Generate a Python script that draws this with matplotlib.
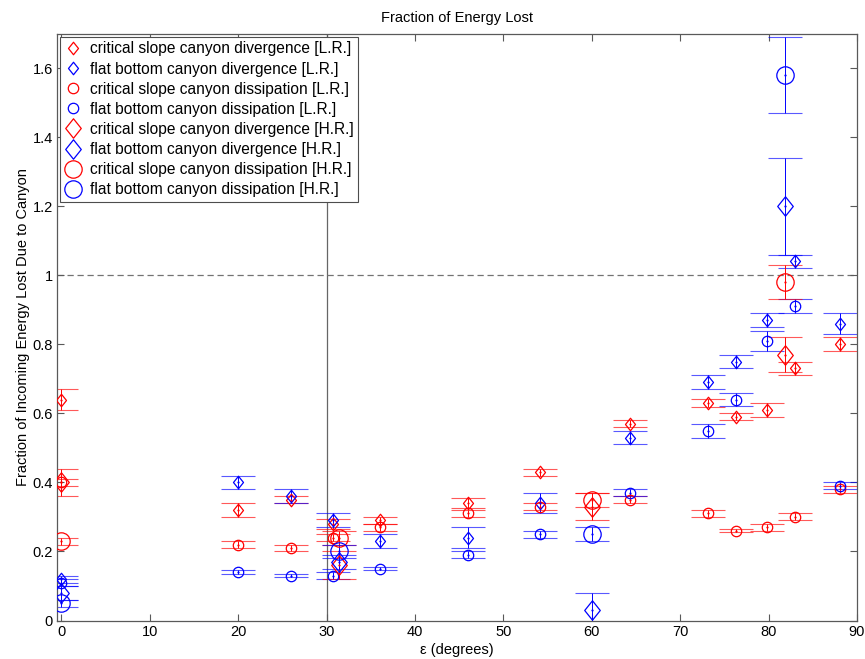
import matplotlib
matplotlib.use("Agg")
import matplotlib.pyplot as plt
from matplotlib.path import Path
import numpy as np

plt.rcParams['font.family'] = ['Liberation Sans', 'DejaVu Sans']

# ---------------- data ----------------
x_lr = [0, 20, 26, 30.7, 36, 46, 54.1, 64.3, 73.1, 76.3, 79.8, 83, 88.1]
cs_div_lr = [0.64, 0.32, 0.35, 0.28, 0.29, 0.34, 0.43, 0.57, 0.63, 0.59, 0.61, 0.73, 0.80]
cs_div_lr_err = [0.03, 0.02, 0.01, 0.015, 0.01, 0.015, 0.01, 0.01, 0.012, 0.01, 0.02, 0.02, 0.02]
fb_div_lr = [0.12, 0.40, 0.36, 0.29, 0.23, 0.24, 0.34, 0.53, 0.69, 0.75, 0.87, 1.04, 0.86]
fb_div_lr_err = [0.01, 0.02, 0.02, 0.02, 0.02, 0.03, 0.03, 0.02, 0.02, 0.02, 0.02, 0.02, 0.03]
cs_diss_lr = [0.40, 0.22, 0.21, 0.24, 0.27, 0.31, 0.33, 0.35, 0.31, 0.26, 0.27, 0.30, 0.38]
cs_diss_lr_err = [0.01, 0.01, 0.01, 0.01, 0.01, 0.01, 0.01, 0.01, 0.01, 0.005, 0.01, 0.01, 0.01]
fb_diss_lr = [0.11, 0.14, 0.13, 0.13, 0.15, 0.19, 0.25, 0.37, 0.55, 0.64, 0.81, 0.91, 0.39]
fb_diss_lr_err = [0.01, 0.005, 0.005, 0.01, 0.005, 0.01, 0.01, 0.01, 0.02, 0.02, 0.03, 0.02, 0.01]

x_hr = [0, 31.4, 60, 81.9]
cs_div_hr = [0.40, 0.16, 0.33, 0.77]
cs_div_hr_err = [0.04, 0.04, 0.04, 0.05]
fb_div_hr = [0.08, 0.17, 0.03, 1.20]
fb_div_hr_err = [0.02, 0.02, 0.05, 0.14]
cs_diss_hr = [0.23, 0.24, 0.35, 0.98]
cs_diss_hr_err = [0.01, 0.02, 0.02, 0.05]
fb_diss_hr = [0.05, 0.20, 0.25, 1.58]
fb_diss_hr_err = [0.01, 0.02, 0.02, 0.11]

labels = [
    "critical slope canyon divergence [L.R.]",
    "flat bottom canyon divergence [L.R.]",
    "critical slope canyon dissipation [L.R.]",
    "flat bottom canyon dissipation [L.R.]",
    "critical slope canyon divergence [H.R.]",
    "flat bottom canyon divergence [H.R.]",
    "critical slope canyon dissipation [H.R.]",
    "flat bottom canyon dissipation [H.R.]",
]

xticks = [0, 10, 20, 30, 40, 50, 60, 70, 80, 90]
yticks = [0, 0.2, 0.4, 0.6, 0.8, 1.0, 1.2, 1.4, 1.6]
yticklabels = ["0", "0.2", "0.4", "0.6", "0.8", "1", "1.2", "1.4", "1.6"]

# ---------------- figure ----------------
RED = '#ff0000'
BLUE = '#0000ff'
diamond = Path([(0, 1), (0.8, 0), (0, -1), (-0.8, 0), (0, 1)],
               [Path.MOVETO, Path.LINETO, Path.LINETO, Path.LINETO, Path.CLOSEPOLY])

fig = plt.figure(figsize=(8.65, 6.59), dpi=100)
ax = fig.add_axes([0.0659, 0.0584, 0.9249, 0.8906])

ax.axvline(30, color=(0.4, 0.4, 0.4), lw=0.9, zorder=1)
ax.axhline(1, color=(0.45, 0.45, 0.45), lw=0.9, ls=(0, (5, 3)), zorder=1)

series = [
    (x_lr, cs_div_lr, cs_div_lr_err, RED, diamond, 9.0),
    (x_lr, fb_div_lr, fb_div_lr_err, BLUE, diamond, 9.0),
    (x_lr, cs_diss_lr, cs_diss_lr_err, RED, 'o', 7.5),
    (x_lr, fb_diss_lr, fb_diss_lr_err, BLUE, 'o', 7.5),
    (x_hr, cs_div_hr, cs_div_hr_err, RED, diamond, 14.0),
    (x_hr, fb_div_hr, fb_div_hr_err, BLUE, diamond, 14.0),
    (x_hr, cs_diss_hr, cs_diss_hr_err, RED, 'o', 12.5),
    (x_hr, fb_diss_hr, fb_diss_hr_err, BLUE, 'o', 12.5),
]

handles = []
for (xs, ys, es, col, mk, ms), lab in zip(series, labels):
    cont = ax.errorbar(xs, ys, yerr=es, fmt='none', ecolor=col,
                       elinewidth=0.7, capsize=12, capthick=0.8, zorder=2)
    _, caps, bars = cont.lines
    for c in caps:
        c.set_alpha(0.65)
    h, = ax.plot(xs, ys, ls='none', marker=mk, ms=ms, mfc='none', mec=col,
                 mew=0.9, label=lab, zorder=3)
    ax.plot(xs, ys, ls='none', marker='o', ms=1.6, mfc=col, mec=col, mew=0, zorder=4)
    handles.append(h)

ax.set_xlim(-0.5, 90)
ax.set_ylim(0, 1.7)
ax.set_xticks(xticks)
ax.set_xticklabels([str(t) for t in xticks])
ax.set_yticks(yticks)
ax.set_yticklabels(yticklabels)
ax.tick_params(direction='in', top=True, right=True, length=5, width=0.8,
               color=(0.35, 0.35, 0.35), labelsize=10.5, pad=3)
for sp in ax.spines.values():
    sp.set_color((0.35, 0.35, 0.35))
    sp.set_linewidth(0.9)

ax.set_title("Fraction of Energy Lost", fontsize=10.5, pad=8)
ax.set_xlabel("ε (degrees)", fontsize=10.5, labelpad=3)
ax.set_ylabel("Fraction of Incoming Energy Lost Due to Canyon", fontsize=10.5, labelpad=2)

leg = ax.legend(handles=handles, loc='upper left', fontsize=11.2, frameon=True,
                fancybox=False, borderaxespad=0.2, handlelength=1.0,
                handletextpad=0.6, labelspacing=0.33, borderpad=0.3,
                numpoints=1)
leg.get_frame().set_edgecolor((0.3, 0.3, 0.3))
leg.get_frame().set_linewidth(0.8)
leg.get_frame().set_alpha(1)

fig.savefig("out.png", dpi=100)
